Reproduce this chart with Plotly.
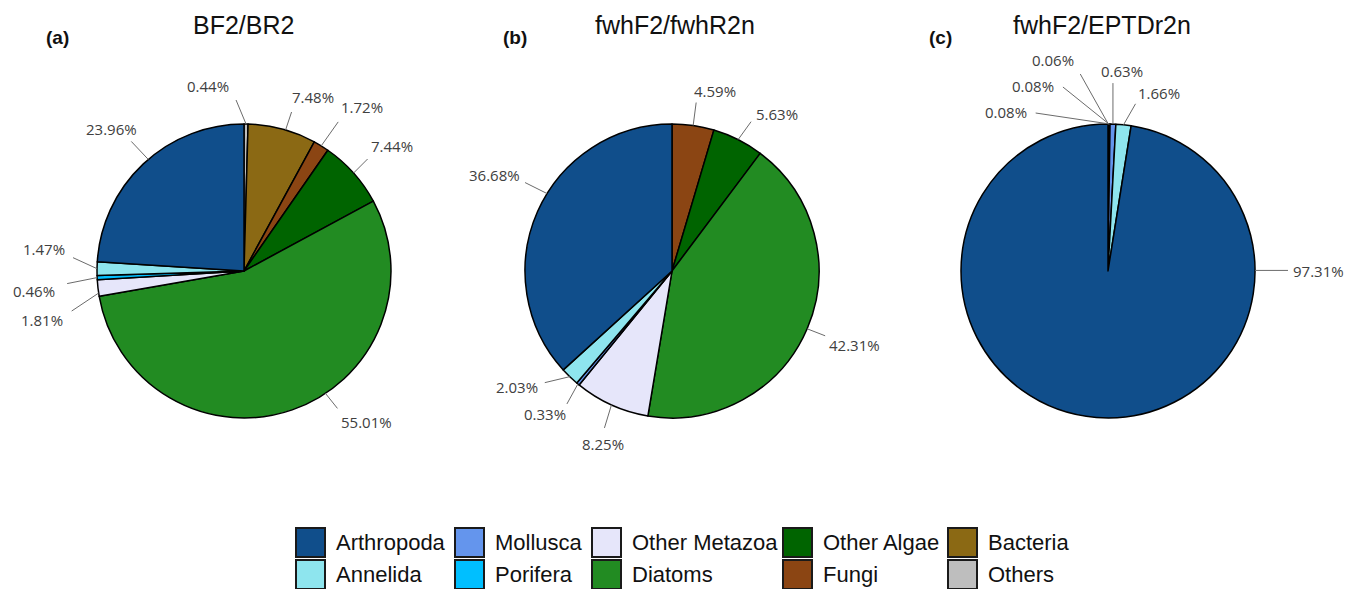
import math
import plotly.graph_objects as go

# ---- data -------------------------------------------------------------
CATEGORIES = ["Arthropoda", "Annelida", "Mollusca", "Porifera", "Other Metazoa",
              "Diatoms", "Other Algae", "Fungi", "Bacteria", "Others"]
COLORS = ["#104E8B", "#8EE5EE", "#6495ED", "#00BFFF", "#E6E6FA",
          "#228B22", "#006400", "#8B4513", "#8B6914", "#BEBEBE"]

PANEL_TITLES = ["BF2/BR2", "fwhF2/fwhR2n", "fwhF2/EPTDr2n"]
PANEL_TAGS = ["(a)", "(b)", "(c)"]

# percentage of reads per taxon (same order as CATEGORIES, 0 = absent)
BF2_BR2 = [23.96, 1.47, 0, 0.46, 1.81, 55.01, 7.44, 1.72, 7.48, 0.44]
FWHF2_FWHR2N = [36.68, 2.03, 0.33, 0, 8.25, 42.31, 5.63, 4.59, 0, 0]
FWHF2_EPTDR2N = [97.31, 1.66, 0.63, 0.08, 0.08, 0.06, 0, 0, 0, 0]
PANEL_VALUES = [BF2_BR2, FWHF2_FWHR2N, FWHF2_EPTDR2N]

# ---- layout / style -----------------------------------------------------
W, H = 1357, 589
PIE_CX = [244, 672, 1108]
PIE_CY = 271
PIE_R = 147
TITLE_X = [243, 675, 1102]
TAG_X = [57, 515, 940]

# label placement: (position inside slice 0..1, leader end offset px, text offset px)
LABEL_LAYOUT = [
    {"Arthropoda": (0.47, (-17, -18), (-37, -30)),
     "Annelida": (0.5, (-24, -11), (-53, -20)),
     "Porifera": (0.5, (-30, 6), (-63, 13)),
     "Other Metazoa": (0.8, (-27, 18), (-57, 27)),
     "Diatoms": (0.573, (12, 15), (41, 29)),
     "Other Algae": (0.5, (14, -14), (38, -27)),
     "Fungi": (0.5, (17, -24), (41, -39)),
     "Bacteria": (0.45, (6, -18), (27, -33)),
     "Others": (0.5, (-10, -24), (-38, -38))},
    {"Arthropoda": (0.44, (-22, -11), (-53, -19)),
     "Annelida": (0.5, (-25, 6), (-53, 10)),
     "Mollusca": (0.5, (-11, 20), (-33, 30)),
     "Other Metazoa": (0.5, (-7, 23), (-8, 39)),
     "Diatoms": (0.5, (18, 7), (47, 16)),
     "Other Algae": (0.5, (13, -18), (39, -26)),
     "Fungi": (0.5, (3, -23), (22, -35))},
    {"Arthropoda": (0.77, (33, 0), (64, 1)),
     "Annelida": (0.5, (12, -21), (35, -32)),
     "Mollusca": (0.5, (0, -41), (9, -53)),
     "Porifera": (0.5, (-74, -11), (-104, -12)),
     "Other Metazoa": (0.5, (-46, -37), (-76, -38)),
     "Diatoms": (0.5, (-28, -50), (-55, -64))},
]

LEGEND_COL_X = [296, 455, 592, 783, 948]
LEGEND_ROW_Y = [528, 560]
LEGEND_BOX = 29

LABEL_FONT = dict(family="Open Sans", size=15, color="#404040")
LEADER_COLOR = "#6b6b6b"


def px(x):
    return x / W


def py(y):
    return 1 - y / H


fig = go.Figure()
shapes = []
annotations = []

for p, values in enumerate(PANEL_VALUES):
    cx = PIE_CX[p]
    labels = [c for c, v in zip(CATEGORIES, values) if v > 0]
    vals = [v for v in values if v > 0]
    cols = [COLORS[CATEGORIES.index(c)] for c in labels]

    # slices run counterclockwise from 12 o'clock in category order;
    # drawn as the reversed sequence going clockwise from 12 o'clock
    fig.add_trace(go.Pie(
        labels=labels[::-1], values=vals[::-1], sort=False,
        direction="clockwise", rotation=0,
        marker=dict(colors=cols[::-1], line=dict(color="#000000", width=1.5)),
        textinfo="none", showlegend=False,
        hovertemplate="%{label}: %{value:.2f}%<extra></extra>",
        domain=dict(x=[px(cx - PIE_R), px(cx + PIE_R)],
                    y=[(H - PIE_CY - PIE_R) / H, (H - PIE_CY + PIE_R) / H]),
    ))

    total = sum(vals)
    start = 0.0
    for lab, v in zip(labels, vals):
        frac, (lx, ly), (tx, ty) = LABEL_LAYOUT[p][lab]
        f = (start + frac * v) / total
        theta = -2 * math.pi * f  # counterclockwise from 12 o'clock
        rx = cx + PIE_R * math.sin(theta)
        ry = PIE_CY - PIE_R * math.cos(theta)
        shapes.append(dict(type="line", xref="paper", yref="paper",
                           x0=px(rx), y0=py(ry), x1=px(rx + lx), y1=py(ry + ly),
                           line=dict(color=LEADER_COLOR, width=1)))
        annotations.append(dict(xref="paper", yref="paper",
                                x=px(rx + tx), y=py(ry + ty),
                                text=f"{v:.2f}%", showarrow=False,
                                xanchor="center", yanchor="middle",
                                font=LABEL_FONT))
        start += v

    annotations.append(dict(xref="paper", yref="paper", x=px(TITLE_X[p]), y=py(25),
                            text=PANEL_TITLES[p], showarrow=False,
                            xanchor="center", yanchor="middle",
                            font=dict(family="Liberation Sans", size=25, color="#111111")))
    annotations.append(dict(xref="paper", yref="paper", x=px(TAG_X[p]), y=py(37),
                            text=f"<b>{PANEL_TAGS[p]}</b>", showarrow=False,
                            xanchor="center", yanchor="middle",
                            font=dict(family="Liberation Sans", size=19, color="#111111")))

# legend: two rows, filled column by column
for i, (cat, col) in enumerate(zip(CATEGORIES, COLORS)):
    x0 = LEGEND_COL_X[i // 2]
    y0 = LEGEND_ROW_Y[i % 2]
    shapes.append(dict(type="rect", xref="paper", yref="paper",
                       x0=px(x0), x1=px(x0 + LEGEND_BOX),
                       y0=py(y0 + LEGEND_BOX), y1=py(y0),
                       fillcolor=col, line=dict(color="#1a1a1a", width=2)))
    annotations.append(dict(xref="paper", yref="paper",
                            x=px(x0 + LEGEND_BOX + 9), y=py(y0 + LEGEND_BOX / 2),
                            text=cat, showarrow=False,
                            xanchor="left", yanchor="middle",
                            font=dict(family="Liberation Sans", size=22, color="#111111")))

fig.update_layout(
    width=W, height=H,
    margin=dict(l=0, r=0, t=0, b=0),
    paper_bgcolor="white", plot_bgcolor="white",
    shapes=shapes, annotations=annotations,
)

fig.write_html("out.html", config={"displayModeBar": False})
